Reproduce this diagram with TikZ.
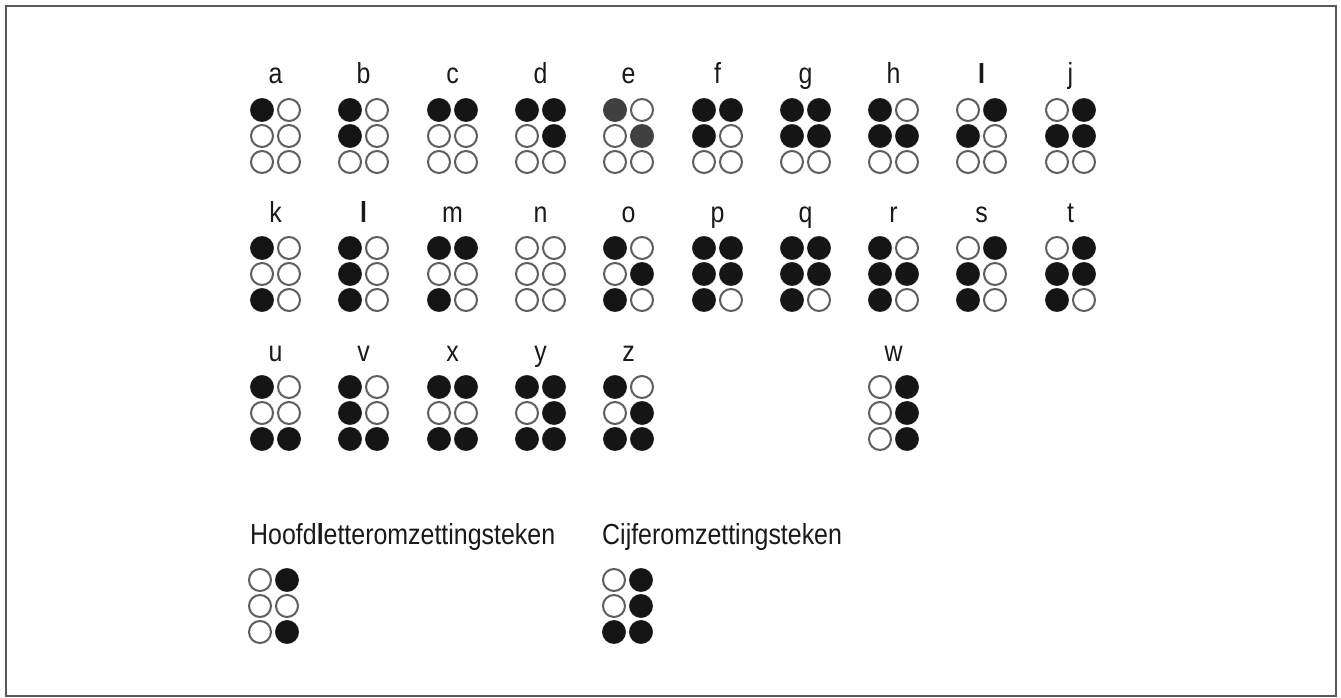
\documentclass[tikz,border=0pt]{standalone}
\usepackage{fontspec}
\usepackage{tikz}
\newfontfamily\lblfont[FakeStretch=0.86]{Liberation Sans}
\definecolor{dotInk}{HTML}{151515}
\definecolor{dotGrey}{HTML}{404040}
\definecolor{ringGrey}{HTML}{5E5E5E}
\definecolor{frameGrey}{HTML}{5A5A5A}

% six dots of one braille cell, #2/#3 = top left dot, #4 = raised dots (0 = none)
\newcommand{\brdots}[4][dotInk]{%
  \foreach \c in {0,1}
    \foreach \r in {0,1,2}
      \draw[dotopen] (#2+27*\c,#3+26*\r) circle[radius=11];
  \foreach \d in {#4} {
    \ifnum\d>0
      \pgfmathtruncatemacro\c{\d>3}
      \pgfmathtruncatemacro\r{mod(\d-1,3)}
      \fill[draw=#1, fill=#1, line width=1.2pt] (#2+27*\c,#3+26*\r) circle[radius=11];
    \fi
  }%
}
% letter on top of its cell
\newcommand{\brcell}[6][dotInk]{%
  \node[lbl] (#4) at (#2+13.5,#3-26) {#5};
  \brdots[#1]{#2}{#3}{#6}%
}

\begin{document}
\begin{tikzpicture}[
  x=1pt, y=-1pt,
  lbl/.style={anchor=base, inner sep=0pt, text=black!90, font=\lblfont\fontsize{29}{34}\selectfont},
  title/.style={anchor=base west, inner sep=0pt, text=black!90, font=\lblfont\fontsize{29}{34}\selectfont},
  dotopen/.style={draw=ringGrey, fill=white, line width=2pt},
  frame/.style={draw=frameGrey, line width=2pt}
]
  \useasboundingbox (0,0) rectangle (1341,698);
  \draw[frame] (6,6) rectangle (1336,696);

  % a - j
  \brcell{262}{110}{ltr-a}{a}{1}
  \brcell{350}{110}{ltr-b}{b}{1,2}
  \brcell{439}{110}{ltr-c}{c}{1,4}
  \brcell{527}{110}{ltr-d}{d}{1,4,5}
  \brcell[dotGrey]{615}{110}{ltr-e}{e}{1,5}
  \brcell{704}{110}{ltr-f}{f}{1,2,4}
  \brcell{792}{110}{ltr-g}{g}{1,2,4,5}
  \brcell{880}{110}{ltr-h}{h}{1,2,5}
  \brcell{968}{110}{ltr-i}{\textbf{I}}{2,4}
  \brcell{1057}{110}{ltr-j}{j}{2,4,5}

  % k - t
  \brcell{262}{248}{ltr-k}{k}{1,3}
  \brcell{350}{248}{ltr-l}{\textbf{l}}{1,2,3}
  \brcell{439}{248}{ltr-m}{m}{1,3,4}
  \brcell{527}{248}{ltr-n}{n}{0}
  \brcell{615}{248}{ltr-o}{o}{1,3,5}
  \brcell{704}{248}{ltr-p}{p}{1,2,3,4,5}
  \brcell{792}{248}{ltr-q}{q}{1,2,3,4,5}
  \brcell{880}{248}{ltr-r}{r}{1,2,3,5}
  \brcell{968}{248}{ltr-s}{s}{2,3,4}
  \brcell{1057}{248}{ltr-t}{t}{2,3,4,5}

  % u - z, w
  \brcell{262}{387}{ltr-u}{u}{1,3,6}
  \brcell{350}{387}{ltr-v}{v}{1,2,3,6}
  \brcell{439}{387}{ltr-x}{x}{1,3,4,6}
  \brcell{527}{387}{ltr-y}{y}{1,3,4,5,6}
  \brcell{615}{387}{ltr-z}{z}{1,3,5,6}
  \brcell{880}{387}{ltr-w}{w}{4,5,6}

  % signs
  \node[title] (capsign) at (250,544) {Hoofd\textbf{l}etteromzettingsteken};
  \brdots{260}{580}{4,6}
  \node[title] (numsign) at (602,544) {Cijferomzettingsteken};
  \brdots{614}{580}{3,4,5,6}
\end{tikzpicture}
\end{document}
